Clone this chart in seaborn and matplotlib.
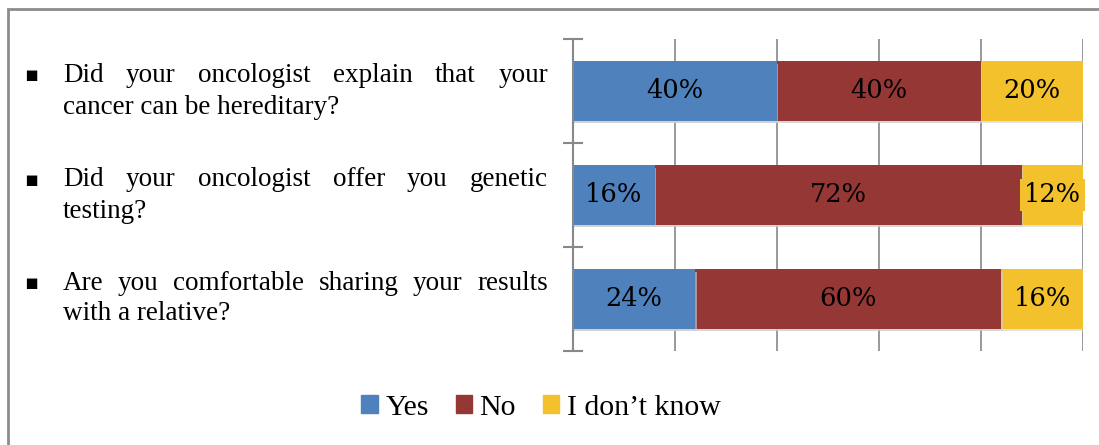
import numpy as np
import pandas as pd
import matplotlib
matplotlib.use("Agg")
import matplotlib.pyplot as plt
import matplotlib.patches as mpatches
import matplotlib.patheffects as pe
import seaborn as sns

QUESTIONS = [
    ("Did your oncologist explain that your", "cancer can be hereditary?"),
    ("Did your oncologist offer you genetic", "testing?"),
    ("Are you comfortable sharing your results", "with a relative?"),
]
SERIES = ["Yes", "No", "I don\u2019t know"]
YES = [40, 16, 24]
NO = [40, 72, 60]
DONT_KNOW = [20, 12, 16]
COLORS = ["#4F81BD", "#953735", "#F3C12B"]

sns.set_theme(style="white")
plt.rcParams["font.family"] = ["Liberation Serif", "DejaVu Serif"]
plt.rcParams["text.color"] = "black"

df = pd.DataFrame({"q": [f"q{i}" for i in range(3)], "yes": YES, "no": NO, "dk": DONT_KNOW})
df["c1"] = df["yes"]
df["c2"] = df["yes"] + df["no"]
df["c3"] = df["c2"] + df["dk"]

fig = plt.figure(figsize=(10.99, 4.45), dpi=100)
ax = fig.add_axes([573 / 1099, 1 - 351 / 445, 510 / 1099, 312 / 445])

shadow = [pe.SimplePatchShadow(offset=(1, -2), shadow_rgbFace="#cfcfcf", alpha=0.6), pe.Normal()]
for col, color in zip(["c3", "c2", "c1"], COLORS[::-1]):
    sns.barplot(data=df, x=col, y="q", orient="h", color=color, width=0.57,
                saturation=1, ax=ax, linewidth=0, path_effects=shadow)

# segment labels
for i, row in df.iterrows():
    starts = [0, row["c1"], row["c2"]]
    vals = [row["yes"], row["no"], row["dk"]]
    for s, v, color in zip(starts, vals, COLORS):
        ax.text(s + v / 2, i, f"{v}%", ha="center", va="center", fontsize=18.5,
                family=["DejaVu Serif"], color="black",
                bbox=dict(boxstyle="square,pad=0.15", fc=color, ec="none"))

ax.set_xlim(0, 100)
ax.set_ylim(2.5, -0.5)
ax.set_xticks(np.arange(0, 101, 20))
ax.set_xticklabels([])
ax.set_yticks([-0.5, 0.5, 1.5, 2.5])
ax.set_yticklabels([])
ax.set_xlabel("")
ax.set_ylabel("")
ax.tick_params(axis="y", direction="inout", length=14, width=1.5, color="#888888", left=True)
ax.tick_params(axis="x", length=0)
ax.grid(True, axis="x", color="#888888", linewidth=1.2)
ax.set_axisbelow(True)
for side in ["top", "right", "bottom"]:
    ax.spines[side].set_visible(False)
ax.spines["left"].set_color("#888888")
ax.spines["left"].set_linewidth(1.5)

# question text, first line justified
line_y = [(75, 108), (180, 212), (283, 314)]
x_left, x_right = 63, 548
fig.canvas.draw()
renderer = fig.canvas.get_renderer()
for (l1, l2), (y1, y2) in zip(QUESTIONS, line_y):
    fig.text(31 / 1099, 1 - y1 / 445, "\u25aa", family=["DejaVu Sans"], fontsize=15,
             ha="center", va="center")
    words = l1.split()
    texts = [fig.text(0, 1 - y1 / 445, w, fontsize=19.5, va="center") for w in words]
    widths = [t.get_window_extent(renderer).width for t in texts]
    gap = (x_right - x_left - sum(widths)) / (len(words) - 1)
    x = x_left
    for t, w in zip(texts, widths):
        t.set_x(x / 1099)
        x += w + gap
    fig.text(x_left / 1099, 1 - y2 / 445, l2, fontsize=19.5, va="center")

handles = [mpatches.Patch(color=c, label=s) for c, s in zip(COLORS, SERIES)]
fig.legend(handles=handles, loc="center", bbox_to_anchor=(541 / 1099, 1 - 408 / 445),
           ncol=3, frameon=False, fontsize=21.5, handlelength=0.55, handleheight=0.55,
           handletextpad=0.25, columnspacing=0.9, borderaxespad=0)

# outer frame
fig.patches.append(mpatches.Rectangle((8 / 1099, -0.1), 1.2, 1 - 9 / 445 + 0.1,
                                      transform=fig.transFigure, fill=False,
                                      ec="#8c8c8c", lw=2))

fig.savefig("out.png", dpi=100)
